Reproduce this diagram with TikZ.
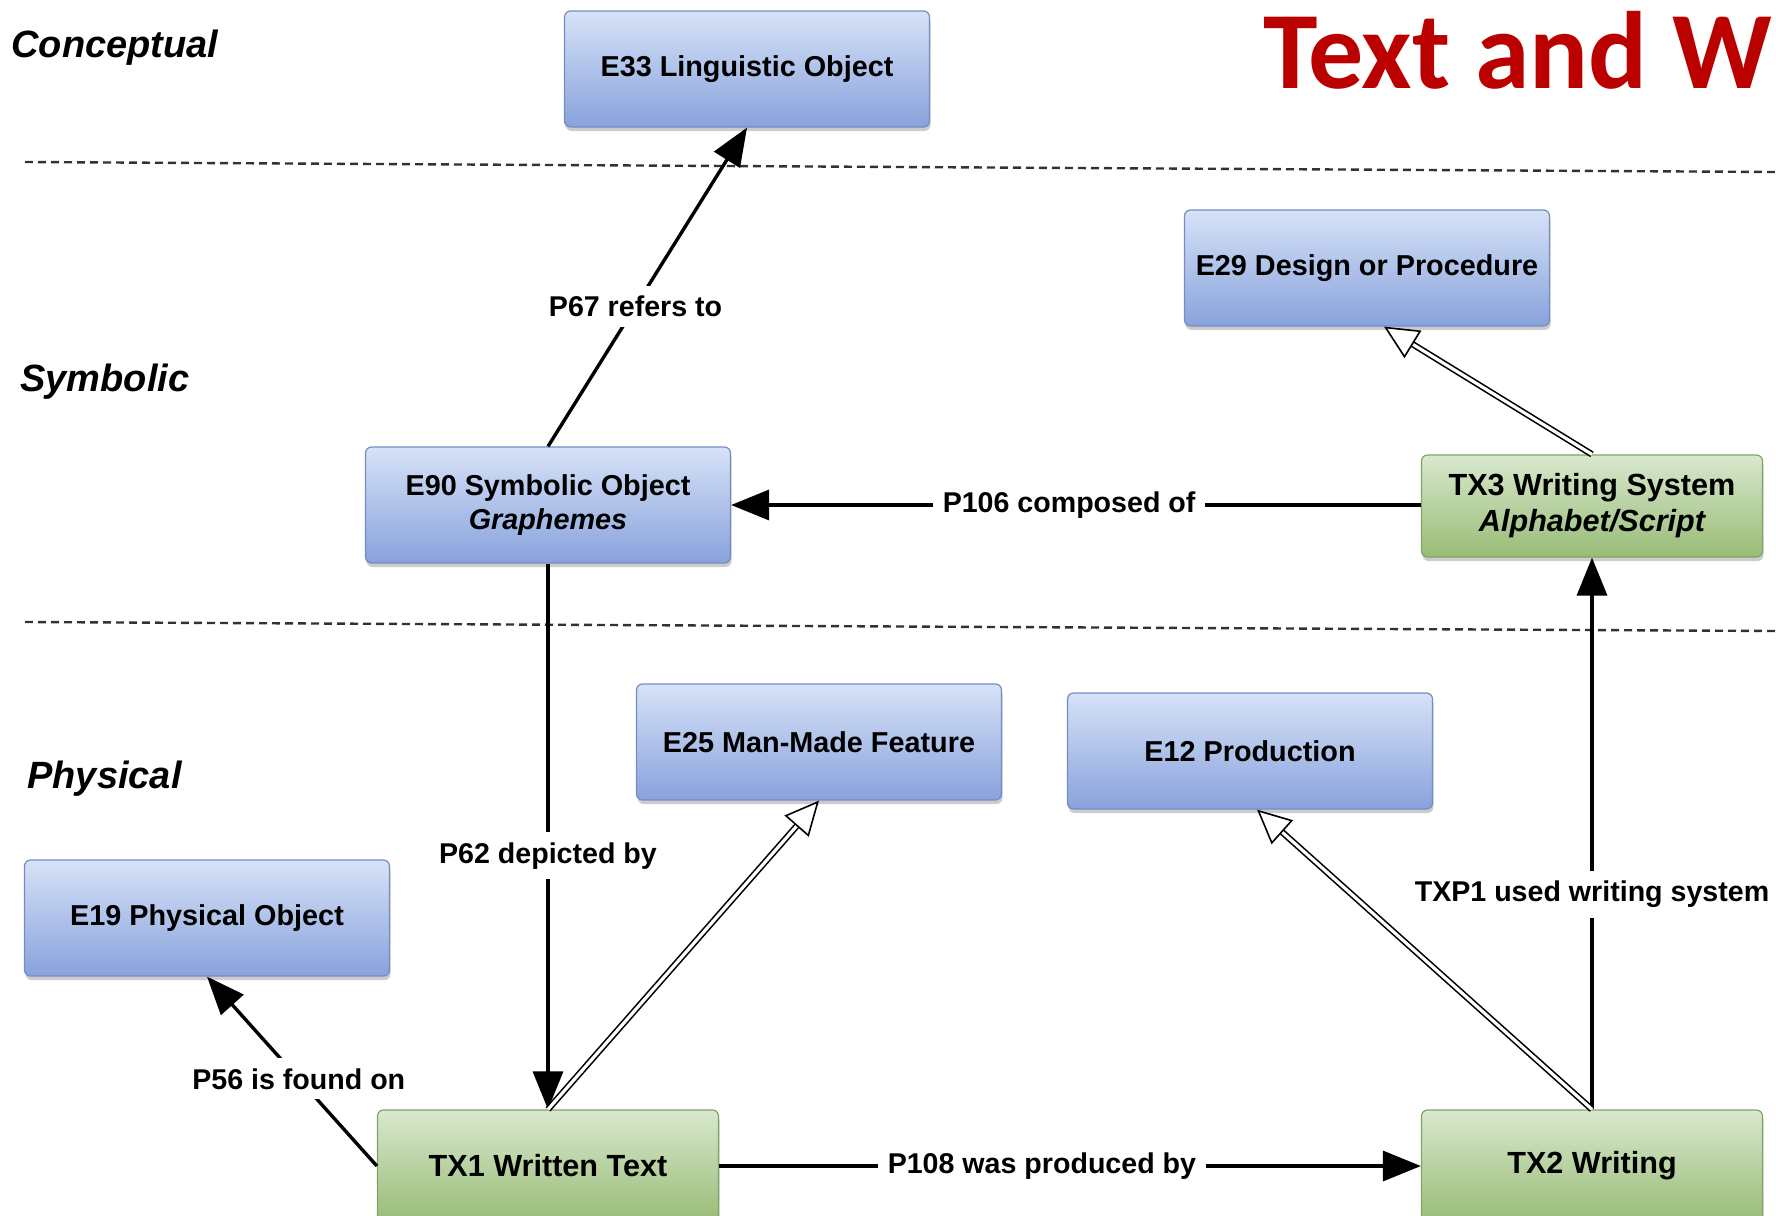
\documentclass[tikz,border=0pt]{standalone}
\usepackage{fontspec}
\setmainfont{Liberation Sans}
\newfontfamily\titlefont{Carlito}
\usetikzlibrary{arrows.meta,shadows,calc}
\definecolor{bluetop}{RGB}{214,226,247}
\definecolor{bluebot}{RGB}{136,162,220}
\definecolor{blueborder}{RGB}{118,140,192}
\definecolor{greentop}{RGB}{216,232,206}
\definecolor{greenbot}{RGB}{152,188,118}
\definecolor{greenborder}{RGB}{128,164,100}
\definecolor{titlered}{RGB}{187,0,0}
\definecolor{dashgray}{RGB}{50,50,50}
\begin{document}
\begin{tikzpicture}[x=0.5pt,y=-0.5pt,
  box/.style={rounded corners=3pt, draw, line width=0.6pt,
    font=\fontsize{14.4}{17}\selectfont\bfseries, align=center, inner sep=0pt,
    drop shadow={shadow xshift=0.5pt, shadow yshift=-2pt, opacity=0.4}},
  bluebox/.style={box, draw=blueborder, top color=bluetop, bottom color=bluebot,
    minimum width=182.5pt, minimum height=58pt},
  greenbox/.style={box, draw=greenborder, top color=greentop, bottom color=greenbot,
    minimum width=170.5pt, minimum height=51pt,
    font=\fontsize{15.3}{18}\selectfont\bfseries},
  rel/.style={line width=1.7pt, -{Triangle[length=19pt,width=15pt]}},
  isa/.style={double, double distance=1.6pt, line width=0.8pt,
    -{Triangle[open,fill=white,length=17pt,width=16pt]}},
  lbl/.style={fill=white, inner sep=5pt, font=\fontsize{14.3}{17}\selectfont\bfseries},
  layer/.style={font=\fontsize{19}{23}\selectfont\bfseries\itshape, anchor=west, inner sep=0pt},
  sep/.style={dashgray, line width=1.2pt, dash pattern=on 4pt off 2.5pt}]
\path[use as bounding box] (0,0) rectangle (1776,1215);

% layers
\node[layer] (conc) at (11,48) {Conceptual};
\node[layer] (symb) at (20,382) {Symbolic};
\node[layer] (phys) at (27,779) {Physical};
\node[anchor=base west, inner sep=0pt, text=titlered,
  font=\titlefont\fontsize{55}{60}\selectfont\bfseries] (title) at (1263,88) {Text and W};

\coordinate (s1a) at (25,162); \coordinate (s1b) at (1776,172);
\coordinate (s2a) at (25,622); \coordinate (s2b) at (1776,631);
\draw[sep] (s1a) -- (s1b);
\draw[sep] (s2a) -- (s2b);

% nodes
\node[bluebox] (e33) at (747,69) {E33 Linguistic Object};
\node[bluebox] (e29) at (1367,268) {E29 Design or Procedure};
\node[bluebox] (e90) at (548,505) {E90 Symbolic Object\\\itshape Graphemes};
\node[greenbox] (tx3) at (1592,506) {TX3 Writing System\\\itshape Alphabet/Script};
\node[bluebox] (e25) at (819,742) {E25 Man-Made Feature};
\node[bluebox] (e12) at (1250,751) {E12 Production};
\node[bluebox] (e19) at (207,918) {E19 Physical Object};
\node[greenbox, minimum height=56pt] (tx1) at (548,1166) {TX1 Written Text};
\node[greenbox, minimum height=56pt] (tx2) at (1592,1166) {TX2 Writing};

% connectors
\draw[rel] (e90.north) -- node[lbl,pos=0.44] {P67 refers to} (e33.south);
\draw[rel] (tx3.west |- e90.east) -- node[lbl,pos=0.51] {P106 composed of} (e90.east);
\draw[rel] (e90.south) -- node[lbl,pos=0.535] {P62 depicted by} (tx1.north);
\draw[rel] (tx1.west) -- node[lbl,pos=0.46] {P56 is found on} (e19.south);
\draw[rel] (tx1.east) -- node[lbl,pos=0.46] {P108 was produced by} (tx2.west);
\draw[rel] (tx2.north) -- node[lbl,pos=0.39] {TXP1 used writing system} (tx3.south);
\draw[isa] (tx1.north) -- (e25.south);
\draw[isa] (tx2.north) -- ($(e12.south)+(7,0)$);
\draw[isa] (tx3.north) -- ($(e29.south)+(17,0)$);
\end{tikzpicture}
\end{document}
